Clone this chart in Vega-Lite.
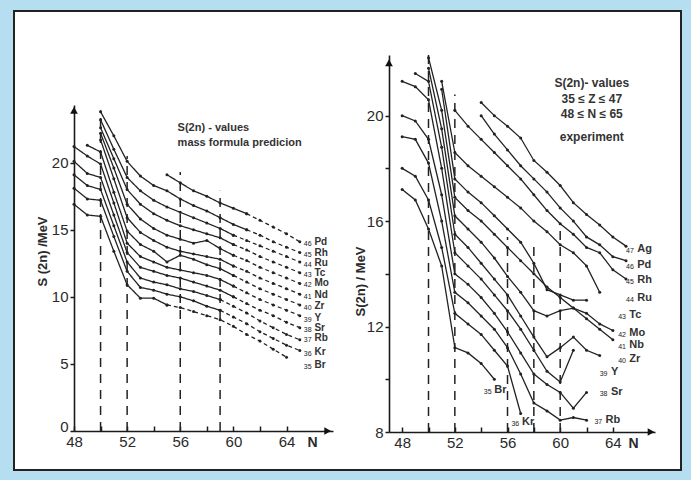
{
"$schema": "https://vega.github.io/schema/vega-lite/v6.json",
"width": 667, "height": 459,
"autosize": {"type": "none"},
"padding": {"left": 14, "top": 11, "right": 10, "bottom": 10},
"background": "#b5dff0",
"config": {
  "view": {"fill": "white", "stroke": "#222", "strokeWidth": 2},
  "font": "Liberation Sans",
  "axis": {"grid": false, "labelFlush": false, "domainColor": "#1a1a1a", "domainWidth": 1.6, "tickColor": "#1a1a1a", "tickWidth": 1.5, "labelFont": "Liberation Sans", "labelFontSize": 15, "labelColor": "#2a2a2a", "titleFont": "Liberation Sans", "titleColor": "#2a2a2a"}
},
"datasets": {
  "L": [
    {"z":"Br","N":48,"S":16.9,"p":"s"},{"z":"Br","N":49,"S":16.1,"p":"s"},{"z":"Br","N":50,"S":16.0,"p":"s"},{"z":"Br","N":51,"S":13.4,"p":"s"},{"z":"Br","N":52,"S":10.9,"p":"s"},{"z":"Br","N":53,"S":9.9,"p":"s"},{"z":"Br","N":54,"S":9.9,"p":"s"},{"z":"Br","N":55,"S":9.4,"p":"s"},
    {"z":"Br","N":55,"S":9.4,"p":"d"},{"z":"Br","N":56,"S":9.2,"p":"d"},{"z":"Br","N":57,"S":8.9,"p":"d"},{"z":"Br","N":58,"S":8.6,"p":"d"},{"z":"Br","N":59,"S":8.3,"p":"d"},{"z":"Br","N":60,"S":7.8,"p":"d"},{"z":"Br","N":61,"S":7.2,"p":"d"},{"z":"Br","N":62,"S":6.7,"p":"d"},{"z":"Br","N":63,"S":6.1,"p":"d"},{"z":"Br","N":64,"S":5.5,"p":"d"},
    {"z":"Kr","N":48,"S":18.1,"p":"s"},{"z":"Kr","N":49,"S":17.3,"p":"s"},{"z":"Kr","N":50,"S":17.2,"p":"s"},{"z":"Kr","N":51,"S":14.5,"p":"s"},{"z":"Kr","N":52,"S":11.9,"p":"s"},{"z":"Kr","N":53,"S":10.7,"p":"s"},{"z":"Kr","N":54,"S":10.5,"p":"s"},{"z":"Kr","N":55,"S":10.2,"p":"s"},{"z":"Kr","N":56,"S":10.0,"p":"s"},{"z":"Kr","N":57,"S":9.7,"p":"s"},{"z":"Kr","N":58,"S":9.3,"p":"s"},{"z":"Kr","N":59,"S":9.0,"p":"s"},
    {"z":"Kr","N":59,"S":9.0,"p":"d"},{"z":"Kr","N":60,"S":8.5,"p":"d"},{"z":"Kr","N":61,"S":8.0,"p":"d"},{"z":"Kr","N":62,"S":7.4,"p":"d"},{"z":"Kr","N":63,"S":6.9,"p":"d"},{"z":"Kr","N":64,"S":6.4,"p":"d"},{"z":"Kr","N":65,"S":6.0,"p":"d"},
    {"z":"Rb","N":48,"S":19.1,"p":"s"},{"z":"Rb","N":49,"S":18.3,"p":"s"},{"z":"Rb","N":50,"S":18.0,"p":"s"},{"z":"Rb","N":51,"S":15.3,"p":"s"},{"z":"Rb","N":52,"S":12.6,"p":"s"},{"z":"Rb","N":53,"S":11.4,"p":"s"},{"z":"Rb","N":54,"S":11.1,"p":"s"},{"z":"Rb","N":55,"S":10.9,"p":"s"},{"z":"Rb","N":56,"S":10.6,"p":"s"},{"z":"Rb","N":57,"S":10.4,"p":"s"},{"z":"Rb","N":58,"S":10.1,"p":"s"},{"z":"Rb","N":59,"S":9.8,"p":"s"},
    {"z":"Rb","N":59,"S":9.8,"p":"d"},{"z":"Rb","N":60,"S":9.3,"p":"d"},{"z":"Rb","N":61,"S":8.8,"p":"d"},{"z":"Rb","N":62,"S":8.2,"p":"d"},{"z":"Rb","N":63,"S":7.7,"p":"d"},{"z":"Rb","N":64,"S":7.2,"p":"d"},{"z":"Rb","N":65,"S":6.8,"p":"d"},
    {"z":"Sr","N":48,"S":20.1,"p":"s"},{"z":"Sr","N":49,"S":19.2,"p":"s"},{"z":"Sr","N":50,"S":18.9,"p":"s"},{"z":"Sr","N":51,"S":16.1,"p":"s"},{"z":"Sr","N":52,"S":13.3,"p":"s"},{"z":"Sr","N":53,"S":12.2,"p":"s"},{"z":"Sr","N":54,"S":11.9,"p":"s"},{"z":"Sr","N":55,"S":11.6,"p":"s"},{"z":"Sr","N":56,"S":11.4,"p":"s"},{"z":"Sr","N":57,"S":11.1,"p":"s"},{"z":"Sr","N":58,"S":10.8,"p":"s"},{"z":"Sr","N":59,"S":10.5,"p":"s"},{"z":"Sr","N":60,"S":10.0,"p":"s"},
    {"z":"Sr","N":60,"S":10.0,"p":"d"},{"z":"Sr","N":61,"S":9.5,"p":"d"},{"z":"Sr","N":62,"S":9.0,"p":"d"},{"z":"Sr","N":63,"S":8.6,"p":"d"},{"z":"Sr","N":64,"S":8.1,"p":"d"},{"z":"Sr","N":65,"S":7.7,"p":"d"},
    {"z":"Y","N":48,"S":21.2,"p":"s"},{"z":"Y","N":49,"S":20.5,"p":"s"},{"z":"Y","N":50,"S":19.9,"p":"s"},{"z":"Y","N":51,"S":17.0,"p":"s"},{"z":"Y","N":52,"S":14.0,"p":"s"},{"z":"Y","N":53,"S":13.0,"p":"s"},{"z":"Y","N":54,"S":12.6,"p":"s"},{"z":"Y","N":55,"S":12.2,"p":"s"},{"z":"Y","N":56,"S":12.0,"p":"s"},{"z":"Y","N":57,"S":11.8,"p":"s"},{"z":"Y","N":58,"S":11.6,"p":"s"},{"z":"Y","N":59,"S":11.3,"p":"s"},{"z":"Y","N":60,"S":10.8,"p":"s"},
    {"z":"Y","N":60,"S":10.8,"p":"d"},{"z":"Y","N":61,"S":10.3,"p":"d"},{"z":"Y","N":62,"S":9.8,"p":"d"},{"z":"Y","N":63,"S":9.4,"p":"d"},{"z":"Y","N":64,"S":9.0,"p":"d"},{"z":"Y","N":65,"S":8.6,"p":"d"},
    {"z":"Zr","N":49,"S":21.3,"p":"s"},{"z":"Zr","N":50,"S":20.8,"p":"s"},{"z":"Zr","N":51,"S":17.8,"p":"s"},{"z":"Zr","N":52,"S":14.9,"p":"s"},{"z":"Zr","N":53,"S":13.9,"p":"s"},{"z":"Zr","N":54,"S":13.4,"p":"s"},{"z":"Zr","N":55,"S":12.6,"p":"s"},{"z":"Zr","N":56,"S":13.1,"p":"s"},{"z":"Zr","N":57,"S":12.8,"p":"s"},{"z":"Zr","N":58,"S":12.4,"p":"s"},{"z":"Zr","N":59,"S":12.1,"p":"s"},{"z":"Zr","N":60,"S":11.6,"p":"s"},
    {"z":"Zr","N":60,"S":11.6,"p":"d"},{"z":"Zr","N":61,"S":11.1,"p":"d"},{"z":"Zr","N":62,"S":10.6,"p":"d"},{"z":"Zr","N":63,"S":10.2,"p":"d"},{"z":"Zr","N":64,"S":9.8,"p":"d"},{"z":"Zr","N":65,"S":9.4,"p":"d"},
    {"z":"Nd","N":50,"S":21.7,"p":"s"},{"z":"Nd","N":51,"S":18.8,"p":"s"},{"z":"Nd","N":52,"S":15.9,"p":"s"},{"z":"Nd","N":53,"S":14.8,"p":"s"},{"z":"Nd","N":54,"S":14.2,"p":"s"},{"z":"Nd","N":55,"S":13.7,"p":"s"},{"z":"Nd","N":56,"S":13.4,"p":"s"},{"z":"Nd","N":57,"S":13.2,"p":"s"},{"z":"Nd","N":58,"S":13.0,"p":"s"},{"z":"Nd","N":59,"S":12.8,"p":"s"},{"z":"Nd","N":60,"S":12.3,"p":"s"},
    {"z":"Nd","N":60,"S":12.3,"p":"d"},{"z":"Nd","N":61,"S":11.9,"p":"d"},{"z":"Nd","N":62,"S":11.4,"p":"d"},{"z":"Nd","N":63,"S":11.0,"p":"d"},{"z":"Nd","N":64,"S":10.6,"p":"d"},{"z":"Nd","N":65,"S":10.2,"p":"d"},
    {"z":"Mo","N":50,"S":22.2,"p":"s"},{"z":"Mo","N":51,"S":19.6,"p":"s"},{"z":"Mo","N":52,"S":16.9,"p":"s"},{"z":"Mo","N":53,"S":15.8,"p":"s"},{"z":"Mo","N":54,"S":15.1,"p":"s"},{"z":"Mo","N":55,"S":14.6,"p":"s"},{"z":"Mo","N":56,"S":14.3,"p":"s"},{"z":"Mo","N":57,"S":14.0,"p":"s"},{"z":"Mo","N":58,"S":14.2,"p":"s"},{"z":"Mo","N":59,"S":13.6,"p":"s"},{"z":"Mo","N":60,"S":13.1,"p":"s"},
    {"z":"Mo","N":60,"S":13.1,"p":"d"},{"z":"Mo","N":61,"S":12.7,"p":"d"},{"z":"Mo","N":62,"S":12.2,"p":"d"},{"z":"Mo","N":63,"S":11.8,"p":"d"},{"z":"Mo","N":64,"S":11.4,"p":"d"},{"z":"Mo","N":65,"S":11.0,"p":"d"},
    {"z":"Tc","N":50,"S":22.6,"p":"s"},{"z":"Tc","N":51,"S":20.3,"p":"s"},{"z":"Tc","N":52,"S":18.0,"p":"s"},{"z":"Tc","N":53,"S":16.9,"p":"s"},{"z":"Tc","N":54,"S":16.2,"p":"s"},{"z":"Tc","N":55,"S":15.7,"p":"s"},{"z":"Tc","N":56,"S":15.3,"p":"s"},{"z":"Tc","N":57,"S":15.0,"p":"s"},{"z":"Tc","N":58,"S":14.7,"p":"s"},{"z":"Tc","N":59,"S":14.4,"p":"s"},{"z":"Tc","N":60,"S":13.9,"p":"s"},
    {"z":"Tc","N":60,"S":13.9,"p":"d"},{"z":"Tc","N":61,"S":13.5,"p":"d"},{"z":"Tc","N":62,"S":13.0,"p":"d"},{"z":"Tc","N":63,"S":12.6,"p":"d"},{"z":"Tc","N":64,"S":12.2,"p":"d"},{"z":"Tc","N":65,"S":11.8,"p":"d"},
    {"z":"Ru","N":50,"S":23.2,"p":"s"},{"z":"Ru","N":51,"S":21.0,"p":"s"},{"z":"Ru","N":52,"S":18.9,"p":"s"},{"z":"Ru","N":53,"S":17.9,"p":"s"},{"z":"Ru","N":54,"S":17.2,"p":"s"},{"z":"Ru","N":55,"S":16.7,"p":"s"},{"z":"Ru","N":56,"S":16.3,"p":"s"},{"z":"Ru","N":57,"S":15.9,"p":"s"},{"z":"Ru","N":58,"S":15.5,"p":"s"},{"z":"Ru","N":59,"S":15.1,"p":"s"},{"z":"Ru","N":60,"S":14.6,"p":"s"},
    {"z":"Ru","N":60,"S":14.6,"p":"d"},{"z":"Ru","N":61,"S":14.2,"p":"d"},{"z":"Ru","N":62,"S":13.8,"p":"d"},{"z":"Ru","N":63,"S":13.4,"p":"d"},{"z":"Ru","N":64,"S":13.0,"p":"d"},{"z":"Ru","N":65,"S":12.6,"p":"d"},
    {"z":"Rh","N":50,"S":23.8,"p":"s"},{"z":"Rh","N":51,"S":22.0,"p":"s"},{"z":"Rh","N":52,"S":20.1,"p":"s"},{"z":"Rh","N":53,"S":19.0,"p":"s"},{"z":"Rh","N":54,"S":18.3,"p":"s"},{"z":"Rh","N":55,"S":17.9,"p":"s"},{"z":"Rh","N":56,"S":17.3,"p":"s"},{"z":"Rh","N":57,"S":16.8,"p":"s"},{"z":"Rh","N":58,"S":16.4,"p":"s"},{"z":"Rh","N":59,"S":15.9,"p":"s"},{"z":"Rh","N":60,"S":15.4,"p":"s"},{"z":"Rh","N":61,"S":15.0,"p":"s"},
    {"z":"Rh","N":61,"S":15.0,"p":"d"},{"z":"Rh","N":62,"S":14.6,"p":"d"},{"z":"Rh","N":63,"S":14.1,"p":"d"},{"z":"Rh","N":64,"S":13.7,"p":"d"},{"z":"Rh","N":65,"S":13.3,"p":"d"},
    {"z":"Pd","N":55,"S":19.1,"p":"s"},{"z":"Pd","N":56,"S":18.5,"p":"s"},{"z":"Pd","N":57,"S":17.9,"p":"s"},{"z":"Pd","N":58,"S":17.5,"p":"s"},{"z":"Pd","N":59,"S":17.0,"p":"s"},{"z":"Pd","N":60,"S":16.6,"p":"s"},{"z":"Pd","N":61,"S":16.2,"p":"s"},
    {"z":"Pd","N":61,"S":16.2,"p":"d"},{"z":"Pd","N":62,"S":15.7,"p":"d"},{"z":"Pd","N":63,"S":15.2,"p":"d"},{"z":"Pd","N":64,"S":14.7,"p":"d"},{"z":"Pd","N":65,"S":14.1,"p":"d"}
  ],
  "R": [
    {"z":"Br","N":48,"S":17.2},{"z":"Br","N":49,"S":16.8},{"z":"Br","N":50,"S":15.7},{"z":"Br","N":51,"S":14.3},{"z":"Br","N":52,"S":11.2},{"z":"Br","N":53,"S":11.0},{"z":"Br","N":54,"S":10.6},{"z":"Br","N":55,"S":10.0},
    {"z":"Kr","N":48,"S":18.0},{"z":"Kr","N":49,"S":17.7},{"z":"Kr","N":50,"S":16.8},{"z":"Kr","N":51,"S":15.0},{"z":"Kr","N":52,"S":12.5},{"z":"Kr","N":53,"S":12.1},{"z":"Kr","N":54,"S":11.7},{"z":"Kr","N":55,"S":11.1},{"z":"Kr","N":56,"S":10.5},{"z":"Kr","N":57,"S":8.7},
    {"z":"Rb","N":48,"S":19.2},{"z":"Rb","N":49,"S":19.1},{"z":"Rb","N":50,"S":18.2},{"z":"Rb","N":51,"S":16.0},{"z":"Rb","N":52,"S":13.3},{"z":"Rb","N":53,"S":12.9},{"z":"Rb","N":54,"S":12.4},{"z":"Rb","N":55,"S":11.9},{"z":"Rb","N":56,"S":11.2},{"z":"Rb","N":57,"S":10.2},{"z":"Rb","N":58,"S":9.1},{"z":"Rb","N":59,"S":8.8},{"z":"Rb","N":60,"S":8.45},{"z":"Rb","N":61,"S":8.55},{"z":"Rb","N":62,"S":8.45},
    {"z":"Sr","N":48,"S":20.0},{"z":"Sr","N":49,"S":19.8},{"z":"Sr","N":50,"S":19.1},{"z":"Sr","N":51,"S":17.0},{"z":"Sr","N":52,"S":14.0},{"z":"Sr","N":53,"S":13.6},{"z":"Sr","N":54,"S":13.1},{"z":"Sr","N":55,"S":12.5},{"z":"Sr","N":56,"S":11.8},{"z":"Sr","N":57,"S":11.0},{"z":"Sr","N":58,"S":10.2},{"z":"Sr","N":59,"S":9.8},{"z":"Sr","N":60,"S":9.5},{"z":"Sr","N":61,"S":8.9},{"z":"Sr","N":62,"S":9.5},
    {"z":"Y","N":48,"S":21.3},{"z":"Y","N":49,"S":21.1},{"z":"Y","N":50,"S":20.6},{"z":"Y","N":51,"S":18.0},{"z":"Y","N":52,"S":14.8},{"z":"Y","N":53,"S":14.3},{"z":"Y","N":54,"S":13.8},{"z":"Y","N":55,"S":13.2},{"z":"Y","N":56,"S":12.6},{"z":"Y","N":57,"S":11.9},{"z":"Y","N":58,"S":11.1},{"z":"Y","N":59,"S":10.3},{"z":"Y","N":60,"S":9.9},{"z":"Y","N":61,"S":11.1},
    {"z":"Zr","N":49,"S":21.6},{"z":"Zr","N":50,"S":21.3},{"z":"Zr","N":51,"S":18.8},{"z":"Zr","N":52,"S":15.5},{"z":"Zr","N":53,"S":15.0},{"z":"Zr","N":54,"S":14.4},{"z":"Zr","N":55,"S":13.8},{"z":"Zr","N":56,"S":13.2},{"z":"Zr","N":57,"S":12.4},{"z":"Zr","N":58,"S":11.6},{"z":"Zr","N":59,"S":10.85},{"z":"Zr","N":60,"S":11.2},{"z":"Zr","N":61,"S":11.6},{"z":"Zr","N":62,"S":11.1},{"z":"Zr","N":63,"S":10.9},
    {"z":"Nb","N":50,"S":21.8},{"z":"Nb","N":51,"S":19.5},{"z":"Nb","N":52,"S":16.2},{"z":"Nb","N":53,"S":15.7},{"z":"Nb","N":54,"S":15.2},{"z":"Nb","N":55,"S":14.6},{"z":"Nb","N":56,"S":13.9},{"z":"Nb","N":57,"S":13.3},{"z":"Nb","N":58,"S":12.6},{"z":"Nb","N":59,"S":12.4},{"z":"Nb","N":60,"S":12.6},{"z":"Nb","N":61,"S":12.7},{"z":"Nb","N":62,"S":12.3},{"z":"Nb","N":63,"S":11.9},{"z":"Nb","N":64,"S":11.5},
    {"z":"Mo","N":50,"S":22.2},{"z":"Mo","N":51,"S":20.2},{"z":"Mo","N":52,"S":16.9},{"z":"Mo","N":53,"S":16.4},{"z":"Mo","N":54,"S":16.0},{"z":"Mo","N":55,"S":15.5},{"z":"Mo","N":56,"S":15.0},{"z":"Mo","N":57,"S":14.5},{"z":"Mo","N":58,"S":14.0},{"z":"Mo","N":59,"S":13.5},{"z":"Mo","N":60,"S":13.1},{"z":"Mo","N":61,"S":12.7},{"z":"Mo","N":62,"S":12.5},{"z":"Mo","N":63,"S":12.1},{"z":"Mo","N":64,"S":11.85},
    {"z":"Tc","N":51,"S":21.0},{"z":"Tc","N":52,"S":17.6},{"z":"Tc","N":53,"S":17.1},{"z":"Tc","N":54,"S":16.7},{"z":"Tc","N":55,"S":16.2},{"z":"Tc","N":56,"S":15.7},{"z":"Tc","N":57,"S":15.2},{"z":"Tc","N":58,"S":14.4},{"z":"Tc","N":59,"S":13.4},{"z":"Tc","N":60,"S":13.2},{"z":"Tc","N":61,"S":13.0},{"z":"Tc","N":62,"S":13.0},
    {"z":"Ru","N":51,"S":21.3},{"z":"Ru","N":52,"S":18.6},{"z":"Ru","N":53,"S":18.1},{"z":"Ru","N":54,"S":17.7},{"z":"Ru","N":55,"S":17.3},{"z":"Ru","N":56,"S":16.9},{"z":"Ru","N":57,"S":16.5},{"z":"Ru","N":58,"S":16.0},{"z":"Ru","N":59,"S":15.6},{"z":"Ru","N":60,"S":15.1},{"z":"Ru","N":61,"S":14.8},{"z":"Ru","N":62,"S":14.3},{"z":"Ru","N":63,"S":13.3},
    {"z":"Rh","N":52,"S":20.2},{"z":"Rh","N":53,"S":19.6},{"z":"Rh","N":54,"S":19.1},{"z":"Rh","N":55,"S":18.6},{"z":"Rh","N":56,"S":18.1},{"z":"Rh","N":57,"S":17.6},{"z":"Rh","N":58,"S":17.0},{"z":"Rh","N":59,"S":16.4},{"z":"Rh","N":60,"S":15.9},{"z":"Rh","N":61,"S":15.5},{"z":"Rh","N":62,"S":15.0},{"z":"Rh","N":63,"S":14.8},{"z":"Rh","N":64,"S":14.15},{"z":"Rh","N":65,"S":13.8},
    {"z":"Pd","N":54,"S":20.0},{"z":"Pd","N":55,"S":19.3},{"z":"Pd","N":56,"S":18.7},{"z":"Pd","N":57,"S":18.1},{"z":"Pd","N":58,"S":17.6},{"z":"Pd","N":59,"S":17.1},{"z":"Pd","N":60,"S":16.5},{"z":"Pd","N":61,"S":16.0},{"z":"Pd","N":62,"S":15.4},{"z":"Pd","N":63,"S":15.1},{"z":"Pd","N":64,"S":14.65},{"z":"Pd","N":65,"S":14.5},
    {"z":"Ag","N":54,"S":20.5},{"z":"Ag","N":55,"S":20.0},{"z":"Ag","N":56,"S":19.6},{"z":"Ag","N":57,"S":19.15},{"z":"Ag","N":58,"S":18.3},{"z":"Ag","N":59,"S":17.85},{"z":"Ag","N":60,"S":17.35},{"z":"Ag","N":61,"S":16.7},{"z":"Ag","N":62,"S":16.25},{"z":"Ag","N":63,"S":15.85},{"z":"Ag","N":64,"S":15.4},{"z":"Ag","N":65,"S":15.05}
  ],
  "LR": [{"N":50,"lo":0,"hi":23.9},{"N":52,"lo":0,"hi":20.5},{"N":56,"lo":0,"hi":19.3},{"N":59,"lo":0,"hi":17.9}],
  "RR": [{"N":50,"lo":8,"hi":22.3},{"N":52,"lo":8,"hi":20.8},{"N":56,"lo":8,"hi":15.4},{"N":58,"lo":8,"hi":15.1},{"N":60,"lo":8,"hi":15.9}],
  "LL": [{"z":"Pd","n":"46","S":14.1},{"z":"Rh","n":"45","S":13.3},{"z":"Ru","n":"44","S":12.55},{"z":"Tc","n":"43","S":11.8},{"z":"Mo","n":"42","S":11.0},{"z":"Nd","n":"41","S":10.15},{"z":"Zr","n":"40","S":9.3},{"z":"Y","n":"39","S":8.45},{"z":"Sr","n":"38","S":7.7},{"z":"Rb","n":"37","S":6.9},{"z":"Kr","n":"36","S":5.9},{"z":"Br","n":"35","S":4.9}],
  "RL": [{"z":"Ag","n":"47","S":14.94,"xn":65.0,"xs":65.85},{"z":"Pd","n":"46","S":14.33,"xn":65.0,"xs":65.85},{"z":"Rh","n":"45","S":13.77,"xn":65.0,"xs":65.85},{"z":"Ru","n":"44","S":13.1,"xn":65.0,"xs":65.85},{"z":"Tc","n":"43","S":12.44,"xn":64.4,"xs":65.25},{"z":"Mo","n":"42","S":11.76,"xn":64.4,"xs":65.25},{"z":"Nb","n":"41","S":11.3,"xn":64.4,"xs":65.25},{"z":"Zr","n":"40","S":10.77,"xn":64.4,"xs":65.25},{"z":"Y","n":"39","S":10.28,"xn":63.0,"xs":63.85},{"z":"Sr","n":"38","S":9.52,"xn":63.0,"xs":63.85},{"z":"Rb","n":"37","S":8.46,"xn":62.6,"xs":63.45},{"z":"Kr","n":"36","S":8.38,"xn":56.3,"xs":57.1},{"z":"Br","n":"35","S":9.6,"xn":54.2,"xs":55.0}],
  "LT": [{"t":"S(2n) - values","N":55.8,"S":22.6},{"t":"mass  formula predicion","N":55.8,"S":21.5}],
  "RT": [{"t":"S(2n)- values","N":62.4,"S":21.24},{"t":"35 ≤ Z ≤ 47","N":62.4,"S":20.63},{"t":"48 ≤ N ≤ 65","N":62.4,"S":20.06},{"t":"experiment","N":62.4,"S":19.19}],
  "LA": [{"N":67.1,"S":0,"sh":"triangle-right"},{"N":48,"S":23.9,"sh":"triangle-up"}],
  "RA": [{"N":66.9,"S":8,"sh":"triangle-right"},{"N":47,"S":22.0,"sh":"triangle-up"}]
},
"layer": [
  {"layer": [
    {"data": {"name": "LR"},
     "mark": {"type": "rule", "color": "#222", "strokeWidth": 1.5, "strokeDash": [9, 7]},
     "encoding": {
       "x": {"field": "N", "type": "quantitative",
             "scale": {"domain": [48, 67.5], "range": [60, 319], "nice": false, "zero": false},
             "axis": {"orient": "bottom", "offset": -39, "values": [48,50,52,54,56,58,60,62,64], "labelExpr": "datum.value % 4 === 0 ? datum.label : ''", "tickSize": -5, "labelPadding": 8, "title": "N", "titleX": 298, "titleY": 11, "titleAngle": 0, "titleAlign": "center", "titleBaseline": "middle", "titleFontSize": 14, "titleFontWeight": "bold"}},
       "y": {"field": "lo", "type": "quantitative",
             "scale": {"domain": [0, 24.3], "range": [420, 94], "nice": false, "zero": false},
             "axis": {"orient": "left", "offset": -60, "values": [0,5,10,15,20], "tickSize": 4, "labelPadding": 2, "labelBaseline": {"condition": {"test": "datum.value === 0", "value": "alphabetic"}, "value": "middle"}, "title": "S (2n) /MeV", "titleX": -25, "titleY": 240, "titleAngle": -90, "titleAlign": "center", "titleBaseline": "bottom", "titleFontSize": 13, "titleFontWeight": "bold"}},
       "y2": {"field": "hi"}
     }},
    {"data": {"name": "L"},
     "mark": {"type": "line", "color": "#222", "strokeWidth": 1.3},
     "encoding": {
       "x": {"field": "N", "type": "quantitative"},
       "y": {"field": "S", "type": "quantitative"},
       "detail": {"field": "z"},
       "strokeDash": {"field": "p", "type": "nominal", "scale": {"domain": ["s", "d"], "range": [[1, 0], [4, 3]]}, "legend": null}
     }},
    {"data": {"name": "L"},
     "mark": {"type": "circle", "color": "#222", "size": 9, "opacity": 1},
     "encoding": {"x": {"field": "N", "type": "quantitative"}, "y": {"field": "S", "type": "quantitative"}}},
    {"data": {"name": "LL"},
     "mark": {"type": "text", "align": "left", "baseline": "middle", "fontSize": 7, "color": "#222", "dy": 2},
     "encoding": {"x": {"datum": 65.3, "type": "quantitative"}, "y": {"field": "S", "type": "quantitative"}, "text": {"field": "n"}}},
    {"data": {"name": "LL"},
     "mark": {"type": "text", "align": "left", "baseline": "middle", "fontSize": 10, "fontWeight": "bold", "color": "#333"},
     "encoding": {"x": {"datum": 66.1, "type": "quantitative"}, "y": {"field": "S", "type": "quantitative"}, "text": {"field": "z"}}},
    {"data": {"name": "LT"},
     "mark": {"type": "text", "align": "left", "baseline": "middle", "fontSize": 11, "fontWeight": "bold", "color": "#333"},
     "encoding": {"x": {"field": "N", "type": "quantitative"}, "y": {"field": "S", "type": "quantitative"}, "text": {"field": "t"}}},
    {"data": {"name": "LA"},
     "mark": {"type": "point", "filled": true, "color": "#111", "size": 60, "opacity": 1},
     "encoding": {"x": {"field": "N", "type": "quantitative"}, "y": {"field": "S", "type": "quantitative"}, "shape": {"field": "sh", "type": "nominal", "scale": null}}}
  ]},
  {"layer": [
    {"data": {"name": "RR"},
     "mark": {"type": "rule", "color": "#222", "strokeWidth": 1.5, "strokeDash": [9, 7]},
     "encoding": {
       "x": {"field": "N", "type": "quantitative",
             "scale": {"domain": [47, 67.2], "range": [375, 641], "nice": false, "zero": false},
             "axis": {"orient": "bottom", "offset": -38, "values": [48,50,52,54,56,58,60,62,64], "labelExpr": "datum.value % 4 === 0 ? datum.label : ''", "tickSize": -5, "labelPadding": 8, "title": "N", "titleX": 619, "titleY": 11, "titleAngle": 0, "titleAlign": "center", "titleBaseline": "middle", "titleFontSize": 14, "titleFontWeight": "bold"}},
       "y": {"field": "lo", "type": "quantitative",
             "scale": {"domain": [8, 22.3], "range": [421, 44], "nice": false, "zero": false},
             "axis": {"orient": "left", "offset": -375, "values": [8,10,12,14,16,18,20], "labelExpr": "datum.value % 4 === 0 ? datum.label : ''", "tickSize": 4, "labelPadding": 2, "title": "S(2n) / MeV", "titleX": -22, "titleY": 270, "titleAngle": -90, "titleAlign": "center", "titleBaseline": "bottom", "titleFontSize": 13, "titleFontWeight": "bold"}},
       "y2": {"field": "hi"}
     }},
    {"data": {"name": "R"},
     "mark": {"type": "line", "color": "#222", "strokeWidth": 1.3},
     "encoding": {
       "x": {"field": "N", "type": "quantitative"},
       "y": {"field": "S", "type": "quantitative"},
       "detail": {"field": "z"}
     }},
    {"data": {"name": "R"},
     "mark": {"type": "circle", "color": "#222", "size": 9, "opacity": 1},
     "encoding": {"x": {"field": "N", "type": "quantitative"}, "y": {"field": "S", "type": "quantitative"}}},
    {"data": {"name": "RL"},
     "mark": {"type": "text", "align": "left", "baseline": "middle", "fontSize": 7, "color": "#222", "dy": 2},
     "encoding": {"x": {"field": "xn", "type": "quantitative"}, "y": {"field": "S", "type": "quantitative"}, "text": {"field": "n"}}},
    {"data": {"name": "RL"},
     "mark": {"type": "text", "align": "left", "baseline": "middle", "fontSize": 11, "fontWeight": "bold", "color": "#333"},
     "encoding": {"x": {"field": "xs", "type": "quantitative"}, "y": {"field": "S", "type": "quantitative"}, "text": {"field": "z"}}},
    {"data": {"name": "RT"},
     "mark": {"type": "text", "align": "center", "baseline": "middle", "fontSize": 12, "fontWeight": "bold", "color": "#333"},
     "encoding": {"x": {"field": "N", "type": "quantitative"}, "y": {"field": "S", "type": "quantitative"}, "text": {"field": "t"}}},
    {"data": {"name": "RA"},
     "mark": {"type": "point", "filled": true, "color": "#111", "size": 60, "opacity": 1},
     "encoding": {"x": {"field": "N", "type": "quantitative"}, "y": {"field": "S", "type": "quantitative"}, "shape": {"field": "sh", "type": "nominal", "scale": null}}}
  ]}
],
"resolve": {"scale": {"x": "independent", "y": "independent"}}
}
